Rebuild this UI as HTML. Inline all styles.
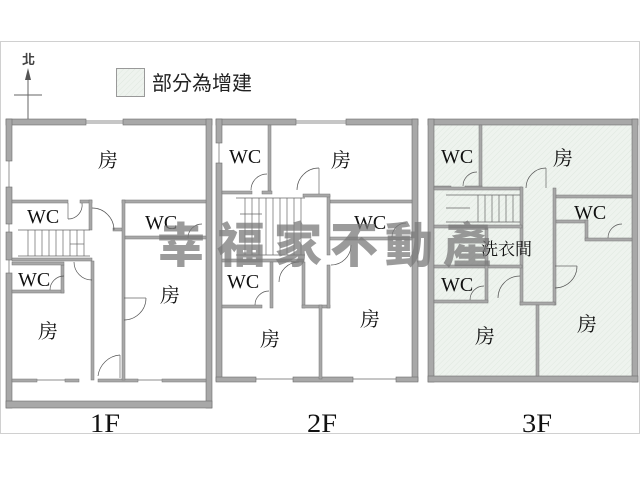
<!DOCTYPE html>
<html><head><meta charset="utf-8"><style>
html,body{margin:0;padding:0;background:#fff;}
svg{display:block}
.w{fill:#a8a8a8;stroke:#6f6f6f;stroke-width:.6}
.t{fill:#a8a8a8;stroke:#777;stroke-width:.5}
.d{fill:none;stroke:#555;stroke-width:.7}
.s{stroke:#666;stroke-width:.7;fill:none}
.lb{font-family:"Liberation Serif",serif;font-size:20px;fill:#111}
.cj{font-family:"Liberation Serif","Noto Serif CJK SC",serif;font-size:20px;fill:#111}
.fl{font-family:"Liberation Serif",serif;font-size:26px;fill:#111}
.wm{font-family:"Noto Sans CJK TC",sans-serif;font-weight:900;font-size:48px;fill:#7a7a7a;opacity:.75}
</style></head><body>
<svg width="640" height="480" viewBox="0 0 640 480" xmlns="http://www.w3.org/2000/svg">
<defs>
<pattern id="h" width="4" height="4" patternUnits="userSpaceOnUse" patternTransform="rotate(45)">
<rect width="4" height="4" fill="#eef3ee"/><line x1="0" y1="0" x2="0" y2="4" stroke="#dfe8df" stroke-width="1"/>
</pattern>
</defs>
<rect x="0.5" y="41.5" width="639" height="392" fill="#fff" stroke="#d0d0d0"/>
<!-- north -->
<text x="22" y="64" font-family="Liberation Sans,'Noto Sans CJK TC',sans-serif" font-size="13" font-weight="bold" fill="#444">北</text>
<line x1="28" y1="74" x2="28" y2="120" stroke="#666" stroke-width="1"/>
<polygon points="28,68 25,80 31,80" fill="#555"/>
<line x1="14" y1="95" x2="42" y2="95" stroke="#666" stroke-width="1"/>
<!-- legend -->
<rect x="116.5" y="68.5" width="28" height="28" fill="url(#h)" stroke="#999"/>
<text x="152" y="90" font-family="Liberation Sans,'Noto Sans CJK TC',sans-serif" font-size="20" fill="#222">部分為增建</text>

<!-- ===== 1F ===== -->
<rect x="12" y="125" width="194" height="275" fill="#fff"/>
<rect class="w" x="6" y="119" width="80" height="6"/><rect class="w" x="123" y="119" width="89" height="6"/>
<line x1="86" y1="121" x2="123" y2="121" class="s"/><line x1="86" y1="123" x2="123" y2="123" class="s"/>
<rect class="w" x="6" y="119" width="6" height="42"/><rect class="w" x="6" y="187" width="6" height="37"/>
<rect class="w" x="6" y="232" width="6" height="28"/><rect class="w" x="6" y="273" width="6" height="135"/>
<line x1="9" y1="161" x2="9" y2="187" class="s"/><line x1="9" y1="224" x2="9" y2="232" class="s"/><line x1="9" y1="260" x2="9" y2="273" class="s"/>
<rect class="w" x="206" y="119" width="6" height="289"/>
<rect class="w" x="6" y="401" width="206" height="7"/>
<rect class="t" x="12" y="379" width="25" height="3"/><rect class="t" x="65" y="379" width="14" height="3"/><rect class="t" x="98" y="379" width="40" height="3"/><rect class="t" x="162" y="379" width="44" height="3"/>
<line x1="37" y1="380" x2="65" y2="380" class="s"/><line x1="138" y1="380" x2="162" y2="380" class="s"/>
<!-- 1F interior -->
<rect class="t" x="12" y="200" width="56" height="3"/><rect class="t" x="80" y="200" width="12" height="3"/>
<rect class="t" x="89" y="200" width="3" height="30"/>
<rect class="t" x="113" y="228" width="10" height="3"/>
<path class="d" d="M68 219 A14 14 0 0 0 82 203"/><line x1="68" y1="219" x2="68" y2="203" class="s"/>
<path class="d" d="M92 208 A22 22 0 0 1 114 230"/>
<g class="s">
<line x1="18" y1="230" x2="90" y2="230"/><line x1="18" y1="256" x2="90" y2="256"/>
<line x1="28" y1="230" x2="28" y2="256"/><line x1="35" y1="230" x2="35" y2="256"/><line x1="42" y1="230" x2="42" y2="256"/><line x1="49" y1="230" x2="49" y2="256"/><line x1="56" y1="230" x2="56" y2="256"/><line x1="63" y1="230" x2="63" y2="256"/><line x1="70" y1="230" x2="70" y2="256"/><line x1="77" y1="230" x2="77" y2="256"/><line x1="84" y1="230" x2="84" y2="256"/>
<line x1="70" y1="244" x2="84" y2="244"/>
</g>
<rect class="t" x="12" y="258" width="80" height="3"/>
<rect class="t" x="12" y="290" width="52" height="3"/><rect class="t" x="61" y="265" width="3" height="28"/>
<rect class="t" x="12" y="262" width="52" height="3"/>
<path class="d" d="M50 290 A14 14 0 0 1 64 276"/>
<rect class="t" x="91" y="261" width="3" height="119"/>
<path class="d" d="M74 262 A18 18 0 0 0 92 280"/>
<rect class="t" x="122" y="200" width="84" height="3"/><rect class="t" x="122" y="200" width="3" height="180"/>
<rect class="t" x="125" y="236" width="81" height="3"/>
<path class="d" d="M188 238 A14 14 0 0 1 202 224"/>
<path class="d" d="M124 320 A22 22 0 0 0 146 298"/><line x1="124" y1="298" x2="146" y2="298" class="s"/>
<path class="d" d="M98 376 A24 24 0 0 1 120 355"/><line x1="120" y1="355" x2="120" y2="378" class="s"/>
<text class="cj" x="98" y="167">房</text>
<text class="lb" x="27" y="223">WC</text>
<text class="lb" x="145" y="229">WC</text>
<text class="lb" x="18" y="286">WC</text>
<text class="cj" x="160" y="302">房</text>
<text class="cj" x="38" y="338">房</text>

<!-- ===== 2F ===== -->
<rect class="w" x="216" y="119" width="80" height="6"/><rect class="w" x="346" y="119" width="72" height="6"/>
<line x1="296" y1="121" x2="346" y2="121" class="s"/><line x1="296" y1="123" x2="346" y2="123" class="s"/>
<rect class="w" x="216" y="119" width="6" height="24"/><rect class="w" x="216" y="163" width="6" height="218"/>
<line x1="219" y1="143" x2="219" y2="163" class="s"/>
<rect class="w" x="412" y="119" width="6" height="262"/>
<rect class="w" x="216" y="377" width="40" height="5"/><rect class="w" x="293" y="377" width="60" height="5"/><rect class="w" x="396" y="377" width="22" height="5"/>
<line x1="256" y1="379" x2="293" y2="379" class="s"/><line x1="353" y1="379" x2="396" y2="379" class="s"/>
<rect class="t" x="268" y="125" width="3" height="67"/>
<rect class="t" x="222" y="191" width="30" height="3"/><rect class="t" x="262" y="191" width="10" height="3"/>
<path class="d" d="M251 190 A16 16 0 0 1 267 174"/>
<rect class="t" x="330" y="200" width="82" height="3"/><rect class="t" x="327" y="195" width="3" height="60"/>
<rect class="t" x="303" y="194" width="27" height="3"/>
<path class="d" d="M297 190 A22 22 0 0 1 319 168"/><line x1="319" y1="168" x2="319" y2="194" class="s"/>
<g class="s">
<line x1="236" y1="198" x2="305" y2="198"/><line x1="236" y1="255" x2="305" y2="255"/>
<line x1="245" y1="198" x2="245" y2="255"/><line x1="252" y1="198" x2="252" y2="255"/><line x1="259" y1="198" x2="259" y2="255"/><line x1="266" y1="198" x2="266" y2="255"/><line x1="273" y1="198" x2="273" y2="255"/><line x1="280" y1="198" x2="280" y2="255"/><line x1="287" y1="198" x2="287" y2="255"/><line x1="294" y1="198" x2="294" y2="255"/><line x1="301" y1="198" x2="301" y2="255"/>
<line x1="240" y1="214" x2="262" y2="214"/>
</g>
<rect class="t" x="222" y="259" width="82" height="3"/>
<rect class="t" x="270" y="262" width="3" height="46"/>
<rect class="t" x="222" y="305" width="40" height="3"/>
<path class="d" d="M255 305 A14 14 0 0 1 269 291"/>
<path class="d" d="M279 282 A20 20 0 0 1 299 262"/>
<rect class="t" x="302" y="262" width="3" height="46"/><rect class="t" x="302" y="305" width="28" height="3"/>
<rect class="t" x="327" y="265" width="3" height="43"/>
<rect class="t" x="330" y="237" width="82" height="3"/>
<path class="d" d="M331 265 A20 20 0 0 0 351 245"/>
<path class="d" d="M392 237 A14 14 0 0 1 406 223"/>
<rect class="t" x="319" y="305" width="3" height="74"/>
<text class="lb" x="229" y="163">WC</text>
<text class="cj" x="331" y="167">房</text>
<text class="lb" x="354" y="229">WC</text>
<text class="lb" x="227" y="288">WC</text>
<text class="cj" x="260" y="346">房</text>
<text class="cj" x="360" y="326">房</text>

<!-- ===== 3F ===== -->
<rect x="428" y="119" width="210" height="263" fill="url(#h)"/>
<rect class="w" x="428" y="119" width="210" height="6"/><rect class="w" x="428" y="119" width="6" height="263"/>
<rect class="w" x="632" y="119" width="6" height="263"/><rect class="w" x="428" y="376" width="210" height="6"/>
<rect class="t" x="479" y="125" width="3" height="63"/>
<rect class="t" x="434" y="186" width="17" height="3"/><rect class="t" x="465" y="186" width="17" height="3"/>
<path class="d" d="M463 186 A14 14 0 0 1 477 172"/>
<rect class="t" x="434" y="187" width="88" height="3"/>
<path class="d" d="M526 188 A20 20 0 0 1 546 168"/><line x1="546" y1="168" x2="546" y2="188" class="s"/>
<rect class="t" x="520" y="187" width="3" height="118"/>
<rect class="t" x="553" y="188" width="3" height="117"/>
<g class="s">
<line x1="446" y1="195" x2="520" y2="195"/><line x1="446" y1="222" x2="520" y2="222"/>
<line x1="478" y1="195" x2="478" y2="222"/><line x1="485" y1="195" x2="485" y2="222"/><line x1="492" y1="195" x2="492" y2="222"/><line x1="499" y1="195" x2="499" y2="222"/><line x1="506" y1="195" x2="506" y2="222"/><line x1="513" y1="195" x2="513" y2="222"/>
<line x1="446" y1="208" x2="470" y2="208"/>
</g>
<rect class="t" x="434" y="225" width="88" height="3"/>
<rect class="t" x="434" y="265" width="88" height="3"/>
<rect class="t" x="485" y="228" width="3" height="74"/>
<rect class="t" x="434" y="300" width="54" height="3"/>
<path class="d" d="M470 300 A14 14 0 0 1 484 286"/>
<path class="d" d="M498 298 A22 22 0 0 1 520 276"/>
<rect class="t" x="520" y="302" width="35" height="3"/>
<rect class="t" x="556" y="195" width="76" height="3"/>
<rect class="t" x="556" y="220" width="30" height="3"/><rect class="t" x="585" y="220" width="3" height="20"/><rect class="t" x="585" y="238" width="47" height="3"/>
<path class="d" d="M608 238 A14 14 0 0 1 622 224"/>
<path class="d" d="M555 288 A22 22 0 0 0 577 266"/><line x1="555" y1="266" x2="577" y2="266" class="s"/>
<rect class="t" x="536" y="305" width="3" height="71"/>
<text class="lb" x="441" y="163">WC</text>
<text class="cj" x="553" y="165">房</text>
<text class="lb" x="574" y="219">WC</text>
<text class="cj" x="481" y="255" style="font-size:17px">洗衣間</text>
<text class="lb" x="441" y="291">WC</text>
<text class="cj" x="475" y="343">房</text>
<text class="cj" x="577" y="331">房</text>

<!-- watermark -->
<text class="wm" x="157" y="262">幸</text>
<text class="wm" x="217" y="262">福</text>
<text class="wm" x="274" y="262">家</text>
<text class="wm" x="330" y="262">不</text>
<text class="wm" x="385" y="262">動</text>
<text class="wm" x="443" y="262">產</text>

<!-- floor labels -->
<text class="fl" x="90" y="432" textLength="30" lengthAdjust="spacingAndGlyphs">1F</text>
<text class="fl" x="307" y="432" textLength="30" lengthAdjust="spacingAndGlyphs">2F</text>
<text class="fl" x="522" y="432" textLength="30" lengthAdjust="spacingAndGlyphs">3F</text>
</svg>
</body></html>
